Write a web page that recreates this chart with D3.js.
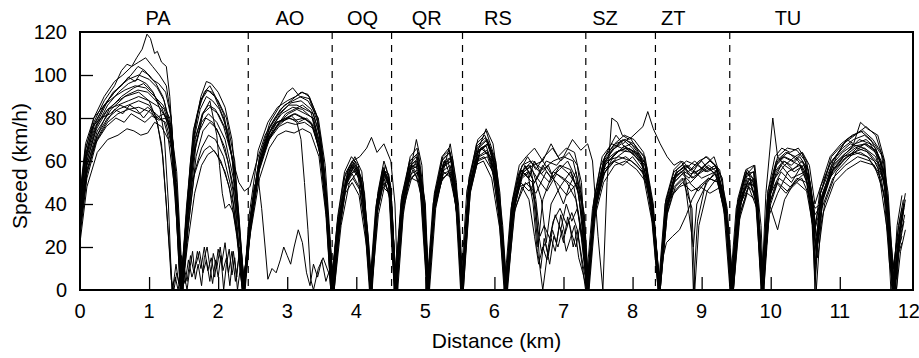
<!DOCTYPE html>
<html>
<head>
<meta charset="utf-8">
<script src="https://cdn.jsdelivr.net/npm/d3@7"></script>
<style>
  body { margin: 0; background: #fff; }
  svg { display: block; font-family: "Liberation Sans", Arial, sans-serif; }
  .trace { fill: none; stroke: #000; stroke-width: 1; stroke-linejoin: round; }
  .boundary { stroke: #000; stroke-width: 1.2; stroke-dasharray: 7,6; }
  .tick-line { stroke: #000; stroke-width: 1.3; }
</style>
</head>
<body>
<div id="chart"></div>
<script>
// speed runs, [distance km, speed km/h]
const run01 = [[0,38],[0.08,62],[0.2,78],[0.35,88],[0.5,95],[0.6,102],[0.68,105],[0.75,104],[0.82,108],[0.9,112],[0.97,119],[1.02,117],[1.08,110],[1.12,111],[1.18,106],[1.25,104],[1.3,90],[1.38,50],[1.46,0],[1.52,25],[1.6,60],[1.7,82],[1.8,92],[1.88,95],[1.96,90],[2.08,82],[2.2,62],[2.3,30],[2.37,0],[2.45,30],[2.6,62],[2.75,78],[2.9,86],[3.0,92],[3.08,94],[3.18,90],[3.3,88],[3.45,80],[3.55,58],[3.62,25],[3.67,0],[3.75,28],[3.85,50],[3.95,60],[4.05,62],[4.15,66],[4.22,71],[4.3,64],[4.4,68],[4.5,60],[4.56,40],[4.6,0],[4.68,35],[4.78,55],[4.87,70],[4.95,58],[5.02,20],[5.06,0],[5.15,38],[5.28,58],[5.36,68],[5.45,50],[5.52,0],[5.62,40],[5.75,64],[5.88,75],[5.98,68],[6.08,45],[6.16,0],[6.25,35],[6.38,55],[6.5,58],[6.62,52],[6.75,60],[6.9,58],[7.0,62],[7.13,70],[7.25,65],[7.35,68],[7.42,60],[7.5,25],[7.57,0],[7.63,50],[7.7,80],[7.78,78],[7.85,72],[7.95,70],[8.05,73],[8.15,76],[8.22,83],[8.3,75],[8.4,68],[8.5,62],[8.6,58],[8.7,60],[8.8,55],[8.9,57],[9.0,60],[9.1,56],[9.2,58],[9.3,52],[9.4,20],[9.45,0],[9.52,30],[9.6,45],[9.7,50],[9.8,40],[9.87,0],[9.93,45],[10.03,80],[10.1,62],[10.2,58],[10.35,62],[10.45,64],[10.55,55],[10.62,30],[10.66,20],[10.72,45],[10.85,58],[11.0,65],[11.1,70],[11.2,68],[11.3,78],[11.4,75],[11.55,72],[11.65,60],[11.72,30],[11.78,10],[11.83,25],[11.9,38]];
const run02 = [[0,30],[0.1,58],[0.25,74],[0.45,84],[0.65,90],[0.85,92],[1.0,88],[1.1,80],[1.18,68],[1.25,40],[1.32,5],[1.36,0],[1.4,8],[1.44,2],[1.5,12],[1.55,4],[1.6,16],[1.65,8],[1.7,18],[1.75,10],[1.8,20],[1.85,9],[1.9,15],[1.95,6],[2.0,19],[2.05,12],[2.1,22],[2.15,8],[2.2,18],[2.25,4],[2.3,15],[2.35,0],[2.45,25],[2.6,58],[2.75,74],[2.9,82],[3.05,87],[3.2,88],[3.35,84],[3.48,72],[3.58,40],[3.65,0],[3.75,32],[3.88,52],[4.0,57],[4.12,45],[4.2,0],[4.3,40],[4.4,55],[4.5,45],[4.57,0],[4.68,42],[4.8,58],[4.92,52],[5.03,0],[5.15,45],[5.28,60],[5.42,48],[5.54,0],[5.65,45],[5.8,66],[5.95,62],[6.08,38],[6.17,0],[6.28,40],[6.4,55],[6.55,50],[6.63,20],[6.7,42],[6.85,55],[7.0,52],[7.15,48],[7.3,20],[7.36,0],[7.45,38],[7.6,58],[7.8,65],[8.0,64],[8.2,55],[8.33,20],[8.39,0],[8.5,40],[8.65,55],[8.8,58],[9.0,52],[9.2,55],[9.35,40],[9.43,0],[9.55,42],[9.7,52],[9.82,35],[9.88,0],[10.0,48],[10.15,58],[10.3,52],[10.5,55],[10.6,35],[10.65,12],[10.75,45],[10.95,62],[11.15,68],[11.35,66],[11.55,58],[11.7,25],[11.76,0],[11.85,30],[11.92,42]];
const run03 = [[0,42],[0.08,65],[0.2,80],[0.35,90],[0.5,97],[0.62,100],[0.75,104],[0.85,106],[0.95,108],[1.05,104],[1.15,100],[1.25,95],[1.32,80],[1.4,40],[1.47,0],[1.55,35],[1.65,72],[1.75,90],[1.83,97],[1.9,96],[2.0,92],[2.1,85],[2.2,70],[2.3,35],[2.38,0],[2.46,28],[2.6,60],[2.75,76],[2.9,84],[3.05,88],[3.2,92],[3.3,91],[3.42,82],[3.52,62],[3.6,30],[3.67,0],[3.76,35],[3.88,55],[3.98,60],[4.1,50],[4.18,22],[4.23,0],[4.32,42],[4.42,58],[4.5,48],[4.58,0],[4.66,40],[4.78,62],[4.88,66],[4.97,45],[5.04,0],[5.12,40],[5.25,62],[5.35,65],[5.46,42],[5.53,0],[5.62,45],[5.75,66],[5.88,70],[6.0,58],[6.1,30],[6.17,0],[6.27,42],[6.4,58],[6.52,60],[6.65,55],[6.8,50],[6.95,58],[7.1,56],[7.22,45],[7.3,18],[7.35,0],[7.45,40],[7.6,62],[7.75,68],[7.9,70],[8.05,66],[8.2,58],[8.32,30],[8.39,0],[8.48,38],[8.6,52],[8.75,56],[8.9,60],[9.05,55],[9.2,58],[9.33,42],[9.42,0],[9.52,38],[9.65,55],[9.78,48],[9.86,0],[9.95,42],[10.1,60],[10.25,64],[10.4,60],[10.52,52],[10.6,30],[10.64,5],[10.72,40],[10.9,60],[11.1,70],[11.3,74],[11.45,70],[11.6,60],[11.7,35],[11.78,0],[11.84,20],[11.9,35]];
const run04 = [[0,35],[0.1,62],[0.25,78],[0.4,88],[0.55,94],[0.7,98],[0.85,100],[1.0,98],[1.12,94],[1.22,88],[1.32,72],[1.42,30],[1.49,0],[1.56,30],[1.68,68],[1.78,82],[1.88,88],[1.98,72],[2.02,58],[2.06,45],[2.1,38],[2.16,40],[2.22,36],[2.28,25],[2.35,0],[2.44,22],[2.58,55],[2.72,70],[2.85,78],[3.0,80],[3.12,79],[3.25,80],[3.38,76],[3.5,62],[3.6,30],[3.68,0],[3.78,30],[3.9,50],[4.02,55],[4.12,40],[4.21,0],[4.3,38],[4.4,52],[4.5,42],[4.59,0],[4.7,45],[4.82,56],[4.94,48],[5.03,0],[5.14,42],[5.26,55],[5.38,52],[5.48,30],[5.54,0],[5.64,48],[5.78,62],[5.9,64],[6.02,50],[6.12,20],[6.18,0],[6.3,38],[6.45,50],[6.6,45],[6.75,55],[6.9,50],[7.05,44],[7.2,50],[7.3,35],[7.37,0],[7.48,42],[7.62,60],[7.8,62],[7.98,60],[8.15,55],[8.3,35],[8.4,0],[8.52,42],[8.68,48],[8.82,50],[8.95,46],[9.1,52],[9.25,50],[9.38,30],[9.46,0],[9.56,40],[9.68,48],[9.8,38],[9.89,0],[9.98,40],[10.12,52],[10.28,48],[10.45,52],[10.58,42],[10.64,30],[10.72,42],[10.9,55],[11.1,62],[11.3,64],[11.5,60],[11.65,50],[11.74,20],[11.8,0],[11.87,28],[11.93,40]];
const run05 = [[0,28],[0.1,55],[0.25,72],[0.42,84],[0.6,90],[0.78,94],[0.92,96],[1.05,92],[1.18,85],[1.3,75],[1.4,42],[1.48,0],[1.55,40],[1.65,75],[1.75,88],[1.85,93],[1.95,90],[2.08,80],[2.2,62],[2.3,28],[2.37,0],[2.45,30],[2.52,48],[2.58,52],[2.63,38],[2.68,20],[2.72,5],[2.78,10],[2.84,8],[2.9,14],[2.95,20],[3.0,16],[3.05,12],[3.1,20],[3.16,28],[3.22,22],[3.28,8],[3.33,2],[3.38,12],[3.44,6],[3.5,14],[3.56,4],[3.62,10],[3.66,0],[3.75,30],[3.85,48],[3.95,52],[4.08,45],[4.18,15],[4.22,0],[4.32,35],[4.42,50],[4.52,38],[4.57,0],[4.68,38],[4.8,52],[4.92,50],[5.02,0],[5.12,38],[5.25,52],[5.38,55],[5.48,30],[5.52,0],[5.62,42],[5.72,60],[5.85,62],[5.98,55],[6.1,25],[6.16,0],[6.26,35],[6.4,52],[6.55,56],[6.68,42],[6.75,22],[6.82,40],[6.95,48],[7.1,55],[7.25,42],[7.33,0],[7.44,35],[7.6,55],[7.78,62],[7.95,66],[8.1,62],[8.25,48],[8.35,18],[8.4,0],[8.5,35],[8.62,48],[8.75,52],[8.88,20],[8.93,40],[9.08,50],[9.22,56],[9.36,38],[9.44,0],[9.55,35],[9.7,50],[9.82,40],[9.88,0],[9.98,35],[10.1,45],[10.25,55],[10.42,58],[10.55,48],[10.63,25],[10.68,15],[10.78,40],[10.95,55],[11.15,62],[11.35,68],[11.52,64],[11.66,48],[11.74,0],[11.82,22],[11.9,30]];
const run06 = [[0,40],[0.1,64],[0.22,76],[0.4,84],[0.55,86],[0.7,88],[0.85,90],[1.0,88],[1.15,85],[1.28,78],[1.38,50],[1.46,0],[1.54,35],[1.66,70],[1.78,82],[1.88,85],[2.0,82],[2.12,74],[2.24,55],[2.33,20],[2.39,0],[2.48,32],[2.62,62],[2.78,76],[2.92,82],[3.08,85],[3.22,84],[3.36,80],[3.48,66],[3.58,38],[3.64,0],[3.74,30],[3.85,52],[3.96,58],[4.06,52],[4.16,28],[4.21,0],[4.3,40],[4.38,55],[4.47,50],[4.56,0],[4.66,38],[4.76,55],[4.88,60],[4.98,35],[5.05,0],[5.14,42],[5.26,58],[5.38,60],[5.47,35],[5.55,0],[5.66,50],[5.8,66],[5.92,68],[6.04,50],[6.13,15],[6.19,0],[6.3,42],[6.44,58],[6.55,52],[6.62,30],[6.68,18],[6.74,22],[6.8,12],[6.86,25],[6.92,20],[6.98,28],[7.04,18],[7.1,24],[7.16,30],[7.22,15],[7.28,8],[7.34,0],[7.42,30],[7.56,52],[7.72,62],[7.88,67],[8.02,64],[8.18,58],[8.3,35],[8.38,0],[8.48,35],[8.6,50],[8.75,55],[8.9,52],[9.05,58],[9.2,54],[9.32,38],[9.41,0],[9.5,38],[9.62,52],[9.75,55],[9.84,20],[9.9,0],[10.0,45],[10.15,55],[10.3,50],[10.45,58],[10.56,50],[10.64,35],[10.7,38],[10.85,52],[11.05,60],[11.25,66],[11.42,64],[11.58,58],[11.7,40],[11.77,5],[11.84,18],[11.9,25]];
const run07 = [[0,25],[0.1,52],[0.25,70],[0.4,78],[0.55,82],[0.7,84],[0.85,85],[1.0,83],[1.1,80],[1.22,82],[1.32,76],[1.4,50],[1.47,0],[1.55,32],[1.66,66],[1.76,78],[1.86,82],[1.98,78],[2.1,70],[2.22,52],[2.32,22],[2.38,0],[2.47,30],[2.6,58],[2.74,70],[2.88,76],[3.0,78],[3.12,77],[3.25,78],[3.38,75],[3.5,60],[3.6,25],[3.66,0],[3.74,25],[3.84,45],[3.94,50],[4.04,44],[4.15,20],[4.2,0],[4.28,32],[4.38,48],[4.48,45],[4.55,0],[4.64,34],[4.75,50],[4.86,54],[4.97,40],[5.03,0],[5.12,35],[5.22,50],[5.34,55],[5.45,38],[5.52,0],[5.6,38],[5.72,58],[5.84,60],[5.96,52],[6.08,28],[6.15,0],[6.24,30],[6.36,48],[6.5,50],[6.6,40],[6.66,10],[6.7,0],[6.78,20],[6.85,32],[6.95,38],[7.05,30],[7.12,36],[7.2,28],[7.28,12],[7.35,0],[7.44,32],[7.58,50],[7.74,58],[7.9,60],[8.06,56],[8.2,50],[8.32,25],[8.38,0],[8.47,32],[8.58,45],[8.72,50],[8.85,46],[8.98,48],[9.12,45],[9.28,48],[9.38,25],[9.44,0],[9.54,32],[9.66,45],[9.78,42],[9.87,0],[9.96,38],[10.08,50],[10.22,45],[10.38,50],[10.52,46],[10.62,28],[10.66,18],[10.76,36],[10.92,50],[11.1,56],[11.3,60],[11.5,58],[11.64,45],[11.72,12],[11.78,0],[11.86,22],[11.94,35]];
const run08 = [[0,22],[0.1,48],[0.25,64],[0.4,70],[0.55,72],[0.68,75],[0.78,74],[0.88,72],[0.98,73],[1.08,78],[1.18,76],[1.28,70],[1.38,45],[1.45,0],[1.53,25],[1.62,50],[1.72,60],[1.8,65],[1.88,67],[1.98,63],[2.1,55],[2.22,40],[2.3,18],[2.36,0],[2.46,25],[2.6,52],[2.74,66],[2.86,72],[2.98,74],[3.1,73],[3.22,75],[3.34,73],[3.46,62],[3.56,35],[3.63,0],[3.72,28],[3.82,46],[3.92,54],[4.02,56],[4.12,42],[4.2,0],[4.29,36],[4.39,52],[4.49,48],[4.57,0],[4.67,40],[4.79,54],[4.9,56],[4.99,32],[5.04,0],[5.13,40],[5.24,55],[5.36,58],[5.46,34],[5.53,0],[5.63,45],[5.76,62],[5.89,65],[6.0,55],[6.1,28],[6.16,0],[6.26,36],[6.38,50],[6.5,46],[6.62,52],[6.76,46],[6.9,54],[7.05,50],[7.18,42],[7.28,22],[7.34,0],[7.43,36],[7.56,55],[7.72,60],[7.86,58],[8.0,62],[8.14,56],[8.28,32],[8.37,0],[8.44,15],[8.49,22],[8.58,25],[8.68,28],[8.78,35],[8.86,42],[8.96,48],[9.1,52],[9.24,50],[9.35,32],[9.42,0],[9.52,36],[9.64,48],[9.76,52],[9.85,25],[9.89,0],[9.98,40],[10.1,28],[10.2,42],[10.34,50],[10.48,54],[10.58,45],[10.64,38],[10.72,40],[10.88,55],[11.05,62],[11.22,64],[11.4,62],[11.56,55],[11.68,38],[11.75,10],[11.82,0],[11.88,18],[11.95,28]];
const run09 = [[0,45],[0.08,68],[0.2,80],[0.35,86],[0.5,90],[0.65,93],[0.8,95],[0.95,94],[1.08,90],[1.2,86],[1.3,80],[1.4,55],[1.49,0],[1.57,30],[1.68,62],[1.78,74],[1.88,78],[1.98,75],[2.1,66],[2.22,48],[2.31,15],[2.37,0],[2.45,35],[2.58,65],[2.72,78],[2.86,85],[3.0,88],[3.12,90],[3.22,92],[3.32,90],[3.44,80],[3.54,55],[3.62,20],[3.68,0],[3.77,32],[3.88,56],[3.98,62],[4.08,55],[4.17,25],[4.22,0],[4.31,45],[4.4,60],[4.48,52],[4.58,0],[4.67,42],[4.78,60],[4.9,64],[4.99,42],[5.05,0],[5.13,45],[5.24,62],[5.34,66],[5.44,48],[5.53,0],[5.62,48],[5.74,68],[5.86,72],[5.97,64],[6.08,35],[6.16,0],[6.25,40],[6.36,55],[6.48,62],[6.6,56],[6.72,62],[6.84,66],[6.96,60],[7.08,64],[7.2,58],[7.3,35],[7.36,0],[7.46,42],[7.6,60],[7.74,66],[7.88,70],[8.02,68],[8.16,62],[8.29,40],[8.38,0],[8.5,40],[8.64,56],[8.78,60],[8.92,58],[9.06,62],[9.2,58],[9.34,40],[9.43,0],[9.53,40],[9.66,56],[9.78,50],[9.88,0],[9.97,45],[10.1,62],[10.24,66],[10.38,65],[10.5,60],[10.6,40],[10.64,0],[10.72,45],[10.88,62],[11.05,68],[11.22,72],[11.38,76],[11.52,72],[11.64,60],[11.72,30],[11.77,0],[11.83,30],[11.9,44]];
const run10 = [[0,32],[0.1,58],[0.25,72],[0.4,80],[0.55,84],[0.7,86],[0.85,88],[1.0,86],[1.12,80],[1.24,78],[1.34,66],[1.42,30],[1.48,0],[1.56,28],[1.66,55],[1.76,66],[1.86,72],[1.96,70],[2.08,62],[2.2,46],[2.3,18],[2.37,0],[2.46,28],[2.6,58],[2.75,72],[2.9,78],[3.04,80],[3.14,78],[3.2,70],[3.25,50],[3.3,28],[3.34,5],[3.38,0],[3.45,10],[3.52,15],[3.6,8],[3.67,0],[3.76,28],[3.86,50],[3.97,58],[4.08,50],[4.17,22],[4.22,0],[4.31,38],[4.41,54],[4.5,46],[4.58,0],[4.68,42],[4.8,58],[4.92,56],[5.01,20],[5.04,0],[5.14,42],[5.26,58],[5.38,62],[5.47,38],[5.54,0],[5.64,50],[5.77,65],[5.9,68],[6.01,58],[6.12,25],[6.17,0],[6.27,38],[6.4,54],[6.52,58],[6.6,42],[6.66,25],[6.72,30],[6.8,24],[6.88,35],[6.96,28],[7.04,40],[7.12,32],[7.2,38],[7.28,20],[7.35,0],[7.46,38],[7.6,58],[7.76,64],[7.92,66],[8.06,64],[8.2,58],[8.32,30],[8.4,0],[8.5,38],[8.62,52],[8.74,56],[8.84,40],[8.88,0],[8.94,32],[9.06,50],[9.2,54],[9.34,36],[9.45,0],[9.55,38],[9.68,52],[9.8,46],[9.88,0],[9.96,40],[10.08,55],[10.2,60],[10.32,56],[10.46,60],[10.57,50],[10.63,32],[10.67,22],[10.76,42],[10.92,58],[11.1,64],[11.28,70],[11.44,68],[11.58,60],[11.69,42],[11.75,8],[11.8,0],[11.87,26],[11.93,38]];
const run11 = [[0,30],[0.1,56],[0.22,68],[0.38,76],[0.52,80],[0.64,78],[0.74,82],[0.84,80],[0.94,78],[1.04,81],[1.14,79],[1.24,80],[1.34,70],[1.42,35],[1.48,0],[1.56,22],[1.66,45],[1.76,58],[1.85,63],[1.94,65],[2.04,60],[2.16,48],[2.27,25],[2.35,0],[2.45,26],[2.58,56],[2.72,72],[2.85,78],[2.98,80],[3.1,82],[3.22,80],[3.34,78],[3.46,66],[3.56,40],[3.63,0],[3.73,30],[3.84,50],[3.94,56],[4.05,52],[4.15,30],[4.21,0],[4.3,42],[4.4,56],[4.49,50],[4.57,0],[4.67,40],[4.79,56],[4.9,58],[5.0,40],[5.05,0],[5.14,44],[5.27,60],[5.39,62],[5.48,40],[5.55,0],[5.64,46],[5.76,64],[5.9,68],[6.02,60],[6.12,30],[6.18,0],[6.28,42],[6.42,56],[6.55,60],[6.7,56],[6.85,60],[7.0,62],[7.14,60],[7.26,44],[7.34,0],[7.44,40],[7.58,58],[7.72,66],[7.86,70],[8.0,66],[8.14,60],[8.28,40],[8.39,0],[8.49,42],[8.6,55],[8.72,58],[8.84,54],[8.98,56],[9.12,60],[9.26,56],[9.37,38],[9.46,0],[9.55,40],[9.66,54],[9.77,58],[9.86,30],[9.9,0],[9.98,44],[10.08,58],[10.2,62],[10.33,60],[10.46,64],[10.56,58],[10.64,40],[10.72,48],[10.88,60],[11.04,66],[11.2,70],[11.36,72],[11.5,68],[11.62,62],[11.7,45],[11.76,15],[11.82,5],[11.88,32],[11.95,45]];
const run12 = [[0,36],[0.08,60],[0.2,76],[0.35,86],[0.5,92],[0.62,96],[0.74,100],[0.84,104],[0.94,102],[1.04,98],[1.14,96],[1.24,92],[1.32,80],[1.4,45],[1.47,0],[1.55,36],[1.65,70],[1.74,84],[1.83,90],[1.92,88],[2.02,84],[2.14,74],[2.25,52],[2.33,18],[2.38,0],[2.47,35],[2.6,62],[2.74,75],[2.88,82],[3.02,86],[3.14,86],[3.26,84],[3.38,82],[3.48,70],[3.57,42],[3.64,0],[3.73,34],[3.83,55],[3.93,62],[4.03,58],[4.13,35],[4.2,0],[4.29,40],[4.38,56],[4.47,54],[4.56,0],[4.65,40],[4.76,58],[4.87,62],[4.96,44],[5.03,0],[5.12,40],[5.24,60],[5.35,64],[5.45,45],[5.53,0],[5.63,52],[5.76,70],[5.88,74],[6.0,62],[6.1,32],[6.16,0],[6.26,40],[6.38,56],[6.5,52],[6.58,60],[6.68,54],[6.78,58],[6.9,48],[7.0,40],[7.08,48],[7.18,55],[7.28,38],[7.36,0],[7.46,45],[7.6,62],[7.74,68],[7.88,72],[8.02,70],[8.16,64],[8.3,38],[8.39,0],[8.49,38],[8.62,54],[8.76,58],[8.9,54],[9.04,58],[9.18,62],[9.3,50],[9.4,18],[9.44,0],[9.54,38],[9.66,52],[9.79,50],[9.87,0],[9.96,46],[10.08,60],[10.22,64],[10.36,62],[10.5,58],[10.59,42],[10.64,10],[10.72,45],[10.88,58],[11.04,64],[11.22,68],[11.38,70],[11.52,66],[11.64,55],[11.72,22],[11.78,0],[11.85,24],[11.92,36]];
const run13 = [[0,34],[0.1,60],[0.24,76],[0.4,86],[0.56,92],[0.7,96],[0.84,98],[0.96,96],[1.06,92],[1.16,84],[1.22,72],[1.28,40],[1.33,0],[1.38,6],[1.42,0],[1.47,10],[1.52,3],[1.57,14],[1.62,6],[1.68,12],[1.73,18],[1.78,8],[1.83,14],[1.88,4],[1.93,17],[1.98,10],[2.03,20],[2.07,9],[2.12,15],[2.17,2],[2.22,18],[2.27,6],[2.31,20],[2.36,0],[2.45,30],[2.58,58],[2.72,70],[2.86,76],[3.0,80],[3.12,82],[3.24,80],[3.36,77],[3.48,64],[3.58,32],[3.65,0],[3.74,28],[3.84,48],[3.94,54],[4.04,48],[4.14,26],[4.2,0],[4.3,36],[4.4,50],[4.49,44],[4.56,0],[4.66,36],[4.78,52],[4.9,55],[4.99,36],[5.04,0],[5.14,38],[5.26,54],[5.38,56],[5.47,32],[5.53,0],[5.62,42],[5.76,60],[5.9,62],[6.02,50],[6.11,22],[6.17,0],[6.27,34],[6.4,48],[6.5,42],[6.58,25],[6.64,12],[6.7,20],[6.76,14],[6.82,24],[6.88,18],[6.94,30],[7.0,22],[7.06,34],[7.12,26],[7.18,20],[7.24,30],[7.3,12],[7.35,0],[7.44,34],[7.58,54],[7.74,60],[7.9,62],[8.06,58],[8.2,52],[8.32,28],[8.39,0],[8.48,36],[8.6,48],[8.72,52],[8.86,38],[8.9,0],[8.96,30],[9.08,46],[9.22,52],[9.35,35],[9.46,0],[9.56,36],[9.68,48],[9.8,44],[9.89,0],[9.98,38],[10.1,50],[10.24,46],[10.38,52],[10.52,50],[10.61,30],[10.66,0],[10.74,38],[10.9,52],[11.08,58],[11.26,62],[11.44,60],[11.6,52],[11.7,32],[11.77,0],[11.84,16],[11.9,22]];
const run14 = [[0,27],[0.1,54],[0.24,70],[0.38,78],[0.5,84],[0.62,82],[0.72,86],[0.82,84],[0.92,80],[1.02,84],[1.12,78],[1.2,62],[1.27,30],[1.34,0],[1.39,12],[1.43,3],[1.47,16],[1.51,7],[1.55,0],[1.59,10],[1.63,18],[1.67,5],[1.71,12],[1.76,2],[1.8,15],[1.84,20],[1.88,11],[1.92,3],[1.96,14],[2.0,6],[2.04,16],[2.08,0],[2.12,12],[2.16,19],[2.2,7],[2.24,15],[2.28,0],[2.32,10],[2.36,0],[2.44,26],[2.56,52],[2.7,68],[2.84,76],[2.98,82],[3.1,84],[3.22,86],[3.34,83],[3.46,70],[3.56,38],[3.63,0],[3.72,30],[3.82,52],[3.92,58],[4.02,54],[4.12,32],[4.19,0],[4.28,38],[4.38,54],[4.46,52],[4.55,0],[4.65,42],[4.76,57],[4.86,60],[4.96,38],[5.02,0],[5.11,40],[5.22,56],[5.33,60],[5.44,40],[5.51,0],[5.6,46],[5.72,63],[5.84,66],[5.95,60],[6.06,36],[6.14,0],[6.24,38],[6.35,54],[6.46,57],[6.58,50],[6.7,58],[6.82,52],[6.94,56],[7.06,60],[7.18,52],[7.28,30],[7.35,0],[7.45,40],[7.58,60],[7.7,65],[7.84,68],[7.98,64],[8.12,60],[8.26,42],[8.37,0],[8.47,40],[8.58,52],[8.7,55],[8.82,52],[8.94,58],[9.08,55],[9.22,57],[9.34,42],[9.43,0],[9.52,42],[9.63,55],[9.74,52],[9.84,28],[9.88,0],[9.97,42],[10.06,55],[10.18,60],[10.3,58],[10.42,62],[10.54,56],[10.62,38],[10.66,25],[10.74,44],[10.9,58],[11.06,63],[11.22,67],[11.38,68],[11.54,64],[11.66,52],[11.73,20],[11.79,0],[11.86,20],[11.93,32]];
const run15 = [[0,40],[0.08,63],[0.2,77],[0.34,85],[0.48,92],[0.6,95],[0.7,99],[0.8,97],[0.9,102],[1.0,100],[1.1,96],[1.2,90],[1.3,78],[1.38,45],[1.45,0],[1.53,30],[1.63,60],[1.73,74],[1.82,80],[1.92,78],[2.02,72],[2.14,60],[2.25,40],[2.33,10],[2.37,0],[2.46,30],[2.6,60],[2.72,72],[2.84,78],[2.96,79],[3.06,81],[3.16,78],[3.28,80],[3.4,76],[3.5,58],[3.59,26],[3.65,0],[3.74,32],[3.84,54],[3.94,60],[4.04,56],[4.14,30],[4.21,0],[4.3,40],[4.39,57],[4.48,50],[4.56,0],[4.66,44],[4.77,60],[4.88,63],[4.97,40],[5.04,0],[5.13,44],[5.25,61],[5.36,64],[5.46,42],[5.54,0],[5.63,50],[5.75,67],[5.87,71],[5.99,60],[6.09,30],[6.15,0],[6.25,36],[6.37,52],[6.48,55],[6.56,40],[6.62,18],[6.67,10],[6.72,24],[6.78,16],[6.84,28],[6.9,22],[6.96,35],[7.02,26],[7.08,32],[7.14,20],[7.2,28],[7.26,14],[7.32,0],[7.42,38],[7.54,58],[7.66,66],[7.76,72],[7.86,68],[7.96,71],[8.06,66],[8.18,62],[8.3,40],[8.39,0],[8.5,42],[8.62,54],[8.74,57],[8.86,52],[8.98,55],[9.1,58],[9.22,55],[9.34,40],[9.43,0],[9.53,40],[9.64,54],[9.76,55],[9.85,22],[9.89,0],[9.97,42],[10.07,58],[10.18,62],[10.3,60],[10.42,58],[10.54,54],[10.62,35],[10.66,15],[10.75,42],[10.9,56],[11.06,62],[11.22,66],[11.38,68],[11.52,65],[11.64,55],[11.72,25],[11.77,0],[11.84,22],[11.91,34]];
const run16 = [[0,33],[0.1,60],[0.24,75],[0.4,84],[0.55,88],[0.7,91],[0.84,93],[0.98,92],[1.1,88],[1.22,84],[1.32,74],[1.41,38],[1.48,0],[1.56,34],[1.67,70],[1.77,82],[1.86,86],[1.96,84],[2.08,76],[2.2,62],[2.3,50],[2.38,46],[2.46,48],[2.56,60],[2.68,72],[2.82,80],[2.96,86],[3.08,88],[3.2,90],[3.32,89],[3.44,78],[3.54,52],[3.62,18],[3.67,0],[3.76,32],[3.87,54],[3.97,59],[4.07,52],[4.16,26],[4.22,0],[4.31,40],[4.41,55],[4.5,47],[4.58,0],[4.67,40],[4.78,58],[4.89,61],[4.99,38],[5.05,0],[5.14,42],[5.26,59],[5.37,61],[5.47,36],[5.54,0],[5.64,48],[5.77,66],[5.9,70],[6.02,58],[6.12,26],[6.18,0],[6.28,40],[6.42,55],[6.56,58],[6.7,60],[6.82,54],[6.94,58],[7.08,54],[7.2,48],[7.3,26],[7.36,0],[7.46,40],[7.6,60],[7.75,64],[7.9,66],[8.04,62],[8.18,58],[8.3,36],[8.39,0],[8.49,40],[8.6,50],[8.72,54],[8.84,50],[8.96,54],[9.1,57],[9.24,52],[9.36,34],[9.44,0],[9.54,38],[9.66,50],[9.78,48],[9.87,0],[9.96,40],[10.06,52],[10.2,58],[10.34,55],[10.48,58],[10.58,48],[10.64,28],[10.7,36],[10.86,54],[11.02,60],[11.2,64],[11.36,66],[11.52,62],[11.64,50],[11.72,18],[11.78,0],[11.86,28],[11.94,40]];
const run17 = [[0,44],[0.08,66],[0.18,76],[0.3,80],[0.44,82],[0.58,86],[0.72,84],[0.86,82],[0.98,85],[1.1,82],[1.22,78],[1.32,66],[1.4,32],[1.46,0],[1.54,38],[1.64,74],[1.74,88],[1.83,93],[1.91,92],[2.0,88],[2.12,80],[2.24,60],[2.32,25],[2.38,0],[2.47,28],[2.6,56],[2.74,70],[2.88,78],[3.02,82],[3.14,84],[3.26,82],[3.38,80],[3.5,64],[3.6,30],[3.66,0],[3.75,30],[3.86,52],[3.96,57],[4.06,50],[4.16,24],[4.21,0],[4.3,38],[4.4,53],[4.49,48],[4.57,0],[4.67,42],[4.78,57],[4.9,59],[5.0,30],[5.04,0],[5.14,40],[5.26,57],[5.37,60],[5.46,38],[5.53,0],[5.63,46],[5.76,64],[5.88,67],[6.0,56],[6.1,28],[6.17,0],[6.26,42],[6.36,58],[6.46,62],[6.58,66],[6.7,60],[6.82,68],[6.92,62],[7.04,66],[7.16,64],[7.26,50],[7.34,0],[7.44,42],[7.56,62],[7.7,68],[7.84,66],[7.98,68],[8.12,62],[8.26,44],[8.38,0],[8.48,42],[8.6,56],[8.72,60],[8.84,56],[8.96,60],[9.08,62],[9.2,58],[9.32,44],[9.42,0],[9.52,40],[9.64,56],[9.76,58],[9.84,30],[9.88,0],[9.96,46],[10.06,62],[10.16,66],[10.28,64],[10.4,66],[10.52,60],[10.6,44],[10.65,30],[10.72,48],[10.86,62],[11.02,68],[11.18,72],[11.34,74],[11.48,70],[11.6,64],[11.7,40],[11.76,8],[11.82,0],[11.88,30],[11.95,42]];

const runs = [run01, run02, run03, run04, run05, run06, run07, run08, run09,
  run10, run11, run12, run13, run14, run15, run16, run17];

// section boundaries (km) and labels on top
const boundaries = [2.436, 3.651, 4.511, 5.538, 7.323, 8.331, 9.407];
const sectionNames = ['PA', 'AO', 'OQ', 'QR', 'RS', 'SZ', 'ZT', 'TU'];
const sectionLabelAt = [1.13, 3.04, 4.09, 5.02, 6.05, 7.6, 8.59, 10.25];

const xTicks = [0, 1, 2, 3, 4, 5, 6, 7, 8, 9, 10, 11, 12];
const yTicks = [0, 20, 40, 60, 80, 100, 120];

const width = 919;
const height = 358;
const margin = { top: 32, right: 6, bottom: 68, left: 80 };
const innerWidth = width - margin.left - margin.right;
const innerHeight = height - margin.top - margin.bottom;

// scales work in page pixels so every text sits at positive coordinates
const xScale = d3.scaleLinear()
  .domain([0, 12.06])
  .range([margin.left, margin.left + innerWidth]);

const yScale = d3.scaleLinear()
  .domain([0, 120])
  .range([margin.top + innerHeight, margin.top]);

const svg = d3.select('#chart')
  .append('svg')
    .attr('width', width)
    .attr('height', height);

svg.append('clipPath')
    .attr('id', 'plot-clip')
  .append('rect')
    .attr('x', margin.left)
    .attr('y', margin.top)
    .attr('width', innerWidth)
    .attr('height', innerHeight);

// dashed section boundaries
svg.selectAll('.boundary')
    .data(boundaries)
  .enter().append('line')
    .attr('class', 'boundary')
    .attr('x1', d => xScale(d))
    .attr('x2', d => xScale(d))
    .attr('y1', margin.top)
    .attr('y2', margin.top + innerHeight);

const line = d3.line()
  .x(d => xScale(d[0]))
  .y(d => yScale(d[1]));

svg.append('g')
    .attr('clip-path', 'url(#plot-clip)')
  .selectAll('.trace')
    .data(runs)
  .enter().append('path')
    .attr('class', 'trace')
    .attr('d', line);

// inward ticks from the axes, labels placed separately
const xAxis = d3.axisBottom(xScale)
  .tickValues(xTicks)
  .tickSizeInner(-13)
  .tickSizeOuter(0)
  .tickFormat('');

const yAxis = d3.axisLeft(yScale)
  .tickValues(yTicks)
  .tickSizeInner(-13)
  .tickSizeOuter(0)
  .tickFormat('');

const gx = svg.append('g')
  .attr('transform', `translate(0, ${margin.top + innerHeight})`)
  .call(xAxis);

const gy = svg.append('g')
  .attr('transform', `translate(${margin.left}, 0)`)
  .call(yAxis);

[gx, gy].forEach(g => {
  g.select('.domain').remove();
  g.selectAll('.tick text').remove();
  g.selectAll('.tick line').attr('class', 'tick-line');
});
gx.selectAll('.tick').filter(d => d === 0 || d === 12).remove();
gy.selectAll('.tick').filter(d => d === 0 || d === 120).remove();

svg.append('rect')
  .attr('x', margin.left)
  .attr('y', margin.top)
  .attr('width', innerWidth)
  .attr('height', innerHeight)
  .attr('fill', 'none')
  .attr('stroke', '#000')
  .attr('stroke-width', 2);

svg.selectAll('.x-label')
    .data(xTicks)
  .enter().append('text')
    .attr('class', 'x-label')
    .attr('x', d => xScale(d))
    .attr('y', 318)
    .attr('text-anchor', 'middle')
    .attr('font-size', 20)
    .text(d => d);

svg.selectAll('.y-label')
    .data(yTicks)
  .enter().append('text')
    .attr('class', 'y-label')
    .attr('x', 67)
    .attr('y', d => yScale(d) + 7)
    .attr('text-anchor', 'end')
    .attr('font-size', 20)
    .text(d => d);

svg.selectAll('.section-label')
    .data(sectionNames)
  .enter().append('text')
    .attr('class', 'section-label')
    .attr('x', (d, i) => xScale(sectionLabelAt[i]))
    .attr('y', 25)
    .attr('text-anchor', 'middle')
    .attr('font-size', 20)
    .text(d => d);

svg.append('text')
  .attr('x', margin.left + innerWidth / 2)
  .attr('y', 348)
  .attr('text-anchor', 'middle')
  .attr('font-size', 21)
  .text('Distance (km)');

svg.append('text')
  .attr('x', -(margin.top + innerHeight / 2 + 5))
  .attr('y', 27)
  .attr('transform', 'rotate(-90)')
  .attr('text-anchor', 'middle')
  .attr('font-size', 21)
  .text('Speed (km/h)');
</script>
</body>
</html>
